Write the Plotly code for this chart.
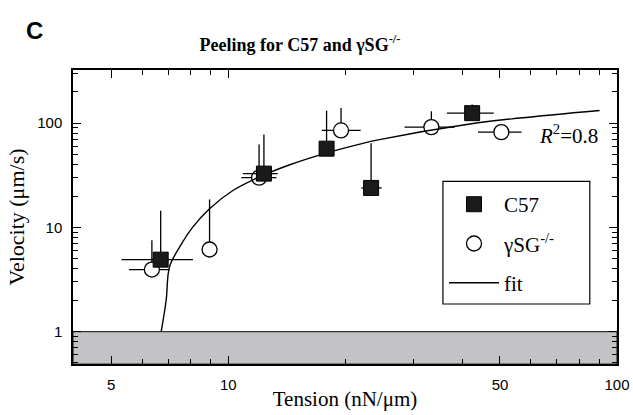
import numpy as np
import plotly.graph_objects as go

# ---- data ----
c57_tension = [6.7, 12.35, 17.9, 23.3, 42.4]
c57_velocity = [4.9, 32.8, 56.9, 23.9, 124.7]
c57_err_up = [9.5, 45.0, 75.0, 40.4, 26.3]
c57_xerr_minus = [1.39, 1.45, 0.0, 1.3, 5.9]
c57_xerr_plus = [1.41, 1.05, 0.0, 1.5, 5.8]

gsg_tension = [6.36, 8.95, 12.0, 19.5, 33.3, 50.4]
gsg_velocity = [3.94, 6.13, 30.0, 85.1, 91.6, 82.0]
gsg_err_up = [3.6, 12.4, 32.5, 55.0, 38.4, 0.0]
gsg_xerr_minus = [0.81, 0.0, 1.2, 2.1, 4.9, 6.5]
gsg_xerr_plus = [0.70, 0.0, 1.3, 2.4, 4.9, 6.4]

fit_tension = [6.72, 6.92, 7.06, 7.50, 8.11, 8.95, 10.3, 12.0, 14.4, 17.5, 21.8, 24.3, 41.8, 56.2, 90.2]
fit_velocity = [1.0, 2.0, 4.18, 6.49, 10.1, 15.1, 22.7, 30.4, 39.9, 50.5, 62.9, 69.1, 98.2, 112.0, 132.4]

x_ticks = [5, 10, 50, 100]
y_ticks = [1, 10, 100]
band_top = 1.0

x_range = [0.6005, 2.0]
y_range = [-0.311, 2.51]

SERIF = "Liberation Serif, Times New Roman, serif"
SANS = "Liberation Sans, Arial, sans-serif"

fig = go.Figure()

fig.add_trace(go.Scatter(
    x=gsg_tension, y=gsg_velocity, mode="markers", name="γSG<sup>-/-</sup>",
    legendgroup="b", legendrank=2,
    marker=dict(symbol="circle", size=15, color="white", line=dict(color="black", width=1.3)),
    error_y=dict(type="data", symmetric=False, array=gsg_err_up, arrayminus=[0] * len(gsg_err_up),
                 color="black", thickness=1.3, width=0),
    error_x=dict(type="data", symmetric=False, array=gsg_xerr_plus, arrayminus=gsg_xerr_minus,
                 color="black", thickness=1.3, width=0),
))

fig.add_trace(go.Scatter(
    x=fit_tension, y=fit_velocity, mode="lines", name="fit",
    legendgroup="c", legendrank=3,
    line=dict(color="black", width=1.4, shape="spline", smoothing=1.0),
))

fig.add_trace(go.Scatter(
    x=c57_tension, y=c57_velocity, mode="markers", name="C57",
    legendgroup="a", legendrank=1,
    marker=dict(symbol="square", size=15, color="#1a1a1a", line=dict(color="black", width=1)),
    error_y=dict(type="data", symmetric=False, array=c57_err_up, arrayminus=[0] * len(c57_err_up),
                 color="black", thickness=1.3, width=0),
    error_x=dict(type="data", symmetric=False, array=c57_xerr_plus, arrayminus=c57_xerr_minus,
                 color="black", thickness=1.3, width=0),
))

# grey "below detection" band
fig.add_shape(type="rect", xref="x domain", x0=0, x1=1, yref="y",
              y0=10 ** y_range[0], y1=band_top, fillcolor="#c3c3c6",
              line=dict(color="#333333", width=1.2), layer="below")
# legend frame
fig.add_shape(type="rect", xref="paper", yref="paper", x0=0.680, x1=0.950, y0=0.204, y1=0.621,
              fillcolor="white", line=dict(color="black", width=1.2), layer="above")

fig.update_xaxes(
    type="log", range=x_range, automargin=False,
    showgrid=False, zeroline=False, showline=True, linecolor="black", linewidth=1.5,
    mirror="allticks", ticks="inside", ticklen=8, tickwidth=1.2, tickcolor="black",
    tickmode="array", tickvals=x_ticks, ticktext=[str(v) for v in x_ticks],
    tickfont=dict(family=SANS, size=15, color="black"),
    minor=dict(dtick="D1", ticks="inside", ticklen=5, tickwidth=1.2, tickcolor="black", showgrid=False),
    ticklabelstandoff=6,
    title=dict(text="Tension (nN/μm)", font=dict(family=SERIF, size=21, color="black"), standoff=0),
)
fig.update_yaxes(
    type="log", range=y_range, automargin=False,
    showgrid=False, zeroline=False, showline=True, linecolor="black", linewidth=1.5,
    mirror="allticks", ticks="inside", ticklen=8, tickwidth=1.2, tickcolor="black",
    tickmode="array", tickvals=y_ticks, ticktext=[str(v) for v in y_ticks],
    tickfont=dict(family=SANS, size=15, color="black"),
    minor=dict(dtick="D1", ticks="inside", ticklen=5, tickwidth=1.2, tickcolor="black", showgrid=False),
    ticklabelstandoff=6,
    title=dict(text="Velocity (μm/s)", font=dict(family=SERIF, size=22, color="black"), standoff=7),
)

fig.add_annotation(xref="paper", yref="paper", x=0.968, y=0.78, xanchor="right", yanchor="middle",
                   text="<i>R</i><sup>2</sup>=0.8", showarrow=False,
                   font=dict(family=SERIF, size=21, color="black"))
fig.add_annotation(xref="paper", yref="paper", x=-0.07, y=1.134, xanchor="center", yanchor="middle",
                   text="<b>C</b>", showarrow=False,
                   font=dict(family=SANS, size=24, color="black"))

fig.update_layout(
    width=633, height=415,
    margin=dict(l=73, r=16, t=70, b=51, autoexpand=False),
    paper_bgcolor="white", plot_bgcolor="white",
    title=dict(text="<b>Peeling for C57 and γSG<sup>-/-</sup></b>", x=0.474, xanchor="center",
               y=0.893, yanchor="middle", font=dict(family=SERIF, size=18, color="black")),
    showlegend=True,
    legend=dict(x=0.682, y=0.612, xanchor="left", yanchor="top", bgcolor="rgba(0,0,0,0)",
                borderwidth=0, traceorder="grouped", tracegroupgap=9, itemwidth=50,
                font=dict(family=SERIF, size=21, color="black")),
)

fig.write_html("out.html", config={"displayModeBar": False},
               post_script="document.body.style.margin='0';")
